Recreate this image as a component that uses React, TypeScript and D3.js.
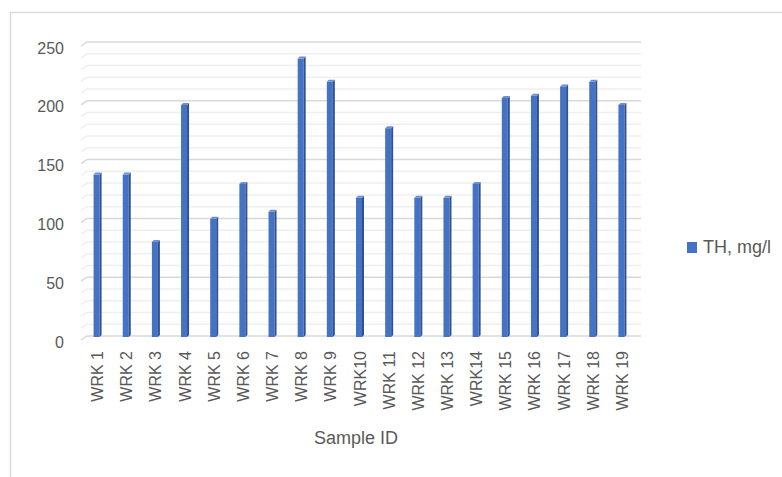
import React from "react";
import * as d3 from "d3";

const categories = [
  "WRK 1", "WRK 2", "WRK 3", "WRK 4", "WRK 5", "WRK 6", "WRK 7", "WRK 8", "WRK 9", "WRK10",
  "WRK 11", "WRK 12", "WRK 13", "WRK14", "WRK 15", "WRK 16", "WRK 17", "WRK 18", "WRK 19",
];
const thValues = [140, 140, 82, 200, 102, 132, 108, 240, 220, 120, 180, 120, 120, 132, 206, 208, 216, 220, 200];
const yTicks = [0, 50, 100, 150, 200, 250];
const minorTicks = d3.range(0, 251, 10);
const seriesName = "TH, mg/l";
const xTitle = "Sample ID";

const FONT = "'Liberation Sans', Arial, sans-serif";
const TXT = "#595959";

export default function App() {
  const W = 782, H = 477;
  const x = d3.scaleBand<string>().domain(categories).range([83, 637]);
  // back wall (gridlines) scale
  const y = d3.scaleLinear().domain([0, 250]).range([336, 42]);
  // bars sit mid-depth, slightly in front of the wall
  const yBar = d3.scaleLinear().domain([0, 250]).range([337, 47]);
  const stubX0 = 81, stubX1 = 87, stubDy = 4;
  const gridEnd = 641;

  return (
    <svg width={W} height={H} style={{ position: "absolute", left: 0, top: 0 }}>
      <rect x={0} y={0} width={W} height={H} fill="#fff" />
      <rect x={10.5} y={12.5} width={800} height={500} fill="none" stroke="#d9d9d9" strokeWidth={1.3} />
      {minorTicks.map((v) => {
        const major = v % 50 === 0;
        const yy = y(v);
        return (
          <path
            key={"g" + v}
            d={`M${stubX0},${yy + stubDy} L${stubX1},${yy} L${gridEnd},${yy}`}
            fill="none"
            stroke={major ? "#d9d9d9" : "#efefef"}
            strokeWidth={1.5}
          />
        );
      })}
      {yTicks.map((v) => (
        <text key={"t" + v} x={64} y={y(v) + 6} textAnchor="end" dominantBaseline="central"
          fontFamily={FONT} fontSize={16} fill={TXT}>{v}</text>
      ))}
      {categories.map((c, i) => {
        const cx = (x(c) as number) + x.bandwidth() / 2;
        const top = yBar(thValues[i]);
        const bot = yBar(0);
        const fl = cx - 4, fr = cx + 2, sr = cx + 4, d = 2;
        return (
          <g key={c}>
            <rect x={fl} y={top} width={fr - fl} height={bot - top} fill="#4472C4" />
            <path d={`M${fr},${top} L${sr},${top - d} L${sr},${bot - d} L${fr},${bot} Z`} fill="#2F528F" />
            <path d={`M${fl},${top} L${fr},${top} L${sr},${top - d} L${fl + d},${top - d} Z`} fill="#6A8FD6" />
          </g>
        );
      })}
      {categories.map((c) => {
        const cx = (x(c) as number) + x.bandwidth() / 2;
        return (
          <text key={"l" + c} transform={`translate(${cx},351) rotate(-90)`} textAnchor="end"
            dominantBaseline="central" fontFamily={FONT} fontSize={16} fill={TXT}>{c}</text>
        );
      })}
      <text x={356} y={444} textAnchor="middle" fontFamily={FONT} fontSize={18} fill={TXT}>{xTitle}</text>
      <rect x={687} y={242} width={10} height={11} fill="#4472C4" />
      <text x={703} y={253} fontFamily={FONT} fontSize={18} fill={TXT}>{seriesName}</text>
    </svg>
  );
}
